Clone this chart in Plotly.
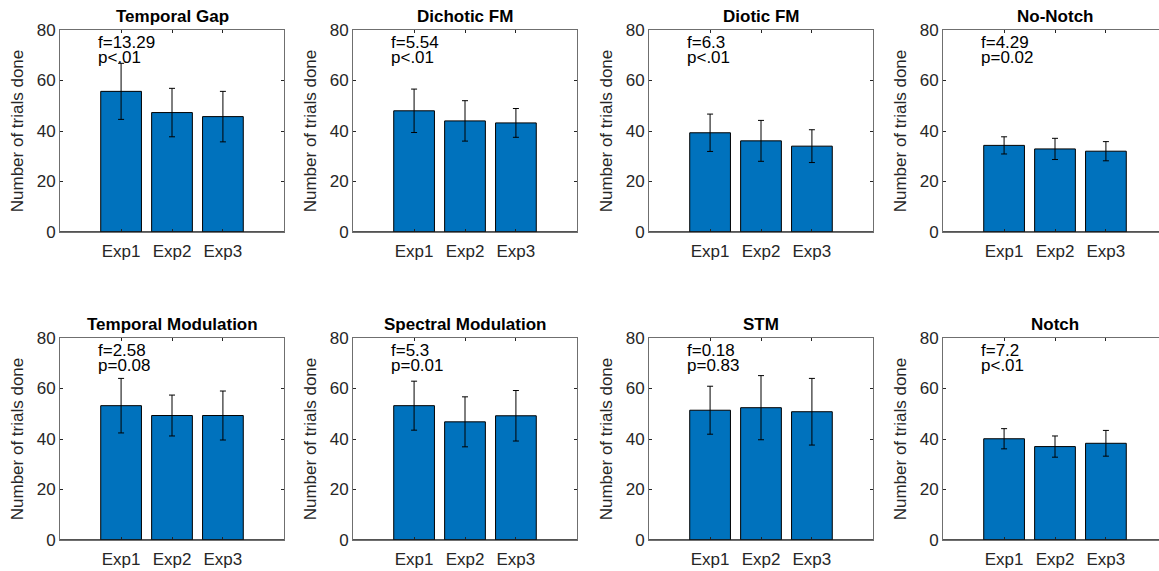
import plotly.graph_objects as go

# Panel titles, in reading order (top row, then bottom row)
titles = ["Temporal Gap", "Dichotic FM", "Diotic FM", "No-Notch",
          "Temporal Modulation", "Spectral Modulation", "STM", "Notch"]
categories = ["Exp1", "Exp2", "Exp3"]

# Mean number of trials done per experiment, and error-bar half-lengths
temporal_gap = [55.7, 47.3, 45.7]
temporal_gap_err = [11.1, 9.6, 10.0]
dichotic_fm = [48.0, 44.0, 43.2]
dichotic_fm_err = [8.6, 8.0, 5.7]
diotic_fm = [39.3, 36.1, 34.0]
diotic_fm_err = [7.4, 8.1, 6.5]
no_notch = [34.3, 32.9, 32.0]
no_notch_err = [3.4, 4.2, 3.8]
temporal_mod = [53.2, 49.3, 49.3]
temporal_mod_err = [10.8, 8.1, 9.7]
spectral_mod = [53.2, 46.8, 49.2]
spectral_mod_err = [9.7, 9.9, 10.0]
stm = [51.4, 52.4, 50.8]
stm_err = [9.5, 12.7, 13.2]
notch = [40.1, 37.0, 38.3]
notch_err = [4.0, 4.2, 5.1]

# ANOVA statistics shown in each panel
f_labels = ["f=13.29", "f=5.54", "f=6.3", "f=4.29",
            "f=2.58", "f=5.3", "f=0.18", "f=7.2"]
p_labels = ["p<.01", "p<.01", "p<.01", "p=0.02",
            "p=0.08", "p=0.01", "p=0.83", "p<.01"]

y_ticks = [0, 20, 40, 60, 80]

means = [temporal_gap, dichotic_fm, diotic_fm, no_notch,
         temporal_mod, spectral_mod, stm, notch]
errors = [temporal_gap_err, dichotic_fm_err, diotic_fm_err, no_notch_err,
          temporal_mod_err, spectral_mod_err, stm_err, notch_err]

W, H = 1159, 571
FONT = "Liberation Sans, Arial, Helvetica, sans-serif"
FS = 17
BAR_BLUE = "#0072BD"
AX_COL = "#262626"

# pixel layout of the axes boxes
col_left = [60, 353, 649, 943]
box_w = 224
row_top = [30, 338]
box_h = 202

x_positions = [1, 2, 3]

fig = go.Figure()
layout = dict(
    width=W, height=H,
    margin=dict(l=0, r=0, t=0, b=0, autoexpand=False),
    paper_bgcolor="white", plot_bgcolor="white",
    showlegend=False,
    font=dict(family=FONT, size=FS, color=AX_COL),
    annotations=[], shapes=[],
)

for i in range(8):
    r, c = divmod(i, 4)
    n = i + 1
    xa = "x" if n == 1 else f"x{n}"
    ya = "y" if n == 1 else f"y{n}"
    x0 = col_left[c]
    x1 = min(x0 + box_w, W)
    lo, hi = -0.2, 4.2
    xr_hi = lo + (x1 - x0) / box_w * (hi - lo)
    top = row_top[r]
    bot = top + box_h

    fig.add_trace(go.Bar(
        x=x_positions, y=means[i], width=0.8,
        marker=dict(color=BAR_BLUE, line=dict(color="black", width=1)),
        error_y=dict(type="data", array=errors[i], visible=True,
                     color="black", thickness=1, width=3),
        xaxis=xa, yaxis=ya, hoverinfo="skip",
    ))

    layout["xaxis" if n == 1 else f"xaxis{n}"] = dict(
        domain=[x0 / W, x1 / W], range=[lo, xr_hi], automargin=False,
        anchor=ya, tickmode="array", tickvals=x_positions, ticktext=categories,
        ticks="inside", ticklen=3, tickcolor=AX_COL,
        showline=True, linecolor="#6f6f6f", linewidth=1, mirror="ticks",
        showgrid=False, zeroline=False, fixedrange=True,
        tickfont=dict(family=FONT, size=FS, color=AX_COL),
        ticklabelstandoff=4,
    )
    layout["yaxis" if n == 1 else f"yaxis{n}"] = dict(
        domain=[1 - bot / H, 1 - top / H], range=[0, 80], automargin=False,
        anchor=xa, tickmode="array", tickvals=y_ticks,
        ticks="inside", ticklen=3, tickcolor=AX_COL,
        showline=True, linecolor="#6f6f6f", linewidth=1,
        mirror="ticks" if x1 - x0 == box_w else False,
        showgrid=False, zeroline=False, fixedrange=True,
        tickfont=dict(family=FONT, size=FS, color=AX_COL),
        title=dict(text="Number of trials done", standoff=8,
                   font=dict(family=FONT, size=FS, color=AX_COL)),
    )

    # bar baseline
    layout["shapes"].append(dict(
        type="line", xref=xa, yref=ya, x0=lo, x1=xr_hi, y0=0, y1=0,
        line=dict(color="#1a1a1a", width=1.5),
    ))

    # panel title, centred over the full axes box
    layout["annotations"].append(dict(
        text=f"<b>{titles[i]}</b>", xref=xa, yref="paper",
        x=(lo + hi) / 2, y=1 - top / H, yanchor="bottom", xanchor="center",
        showarrow=False, yshift=2,
        font=dict(family=FONT, size=FS, color="black"),
    ))
    # statistics text
    layout["annotations"].append(dict(
        text=f_labels[i], xref=xa, yref=ya, x=0.5, y=75.2,
        xanchor="left", yanchor="middle", showarrow=False,
        font=dict(family=FONT, size=FS, color="black"),
    ))
    layout["annotations"].append(dict(
        text=p_labels[i], xref=xa, yref=ya, x=0.5, y=69.3,
        xanchor="left", yanchor="middle", showarrow=False,
        font=dict(family=FONT, size=FS, color="black"),
    ))

fig.update_layout(**layout)
fig.write_html("out.html", config=dict(displayModeBar=False))
